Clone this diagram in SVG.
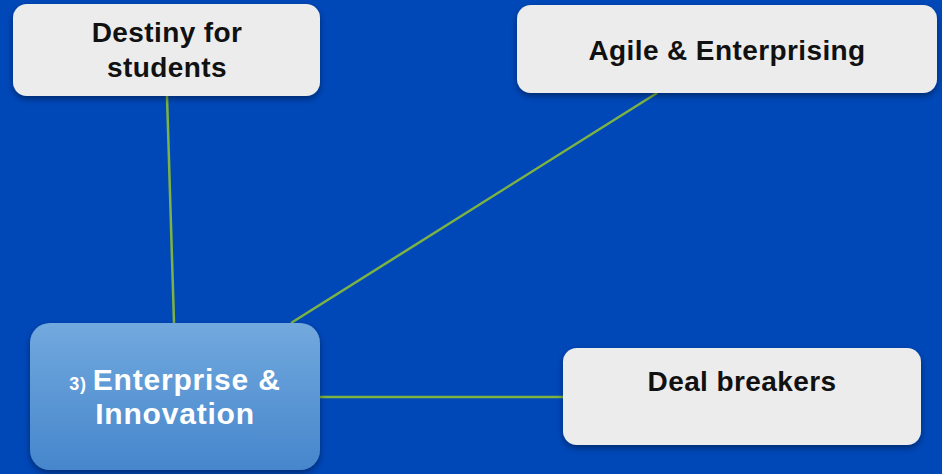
<svg xmlns="http://www.w3.org/2000/svg" width="942" height="474" viewBox="0 0 942 474">
<defs>
<style>
.box{fill:#ececec;}
.lbl{font-family:"Liberation Sans",Arial,sans-serif;font-weight:bold;font-size:28px;fill:#111;text-anchor:middle;letter-spacing:0.4px;}
.wl{font-family:"Liberation Sans",Arial,sans-serif;font-weight:bold;font-size:30px;fill:#fff;text-anchor:middle;letter-spacing:0.8px;}
.conn{stroke:#7cb342;stroke-width:2.5;fill:none;}
</style>
<linearGradient id="eg" x1="0" y1="0" x2="0" y2="1">
<stop offset="0" stop-color="#72a9de"/>
<stop offset="1" stop-color="#4686cc"/>
</linearGradient>
<filter id="sh" x="-10%" y="-10%" width="120%" height="130%">
<feDropShadow dx="0" dy="3" stdDeviation="3" flood-color="#000" flood-opacity="0.4"/>
</filter>
</defs>
<rect width="942" height="474" fill="#0047b8"/>
<g id="connectors">
<line class="conn" x1="167" y1="96" x2="174" y2="323"/>
<line class="conn" x1="657" y1="93" x2="291" y2="323"/>
<line class="conn" x1="320" y1="397" x2="563" y2="397"/>
</g>
<g id="destiny">
<rect class="box" x="13" y="4" width="307" height="92" rx="14" filter="url(#sh)"/>
<text class="lbl" x="167" y="42">Destiny for</text>
<text class="lbl" x="167" y="77">students</text>
</g>
<g id="agile">
<rect class="box" x="517" y="5" width="420" height="88" rx="14" filter="url(#sh)"/>
<text class="lbl" x="727" y="60">Agile &amp; Enterprising</text>
</g>
<g id="deal">
<rect class="box" x="563" y="348" width="358" height="97" rx="14" filter="url(#sh)"/>
<text class="lbl" x="742" y="391">Deal breakers</text>
</g>
<g id="enterprise">
<rect x="30" y="323" width="290" height="147" rx="20" fill="url(#eg)" filter="url(#sh)"/>
<text class="wl" x="175" y="390"><tspan font-size="18px">3) </tspan>Enterprise &amp;</text>
<text class="wl" x="175" y="424">Innovation</text>
</g>
</svg>
